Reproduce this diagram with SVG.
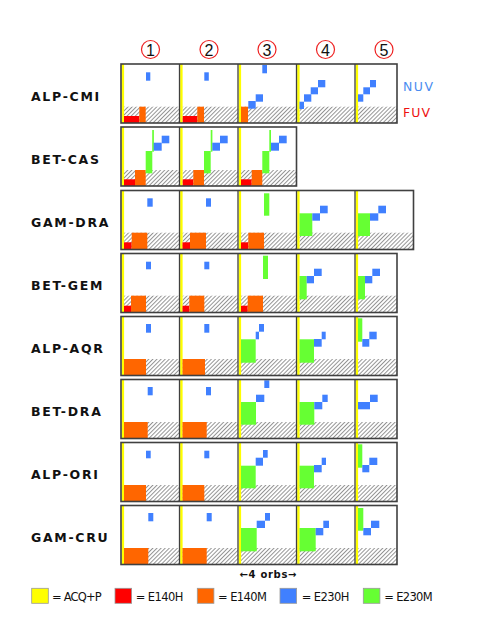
<svg xmlns="http://www.w3.org/2000/svg" width="496" height="640" viewBox="0 0 496 640">
<style>
.lbl{font-family:"DejaVu Sans","Liberation Sans",sans-serif;font-size:12.5px;font-weight:bold;letter-spacing:1.7px;fill:#111}
.num{font-family:"Liberation Sans","DejaVu Sans",sans-serif;font-size:16px;fill:#111;text-anchor:middle}
.leg{font-family:"DejaVu Sans","Liberation Sans",sans-serif;font-size:11.5px;fill:#111}
.circ{fill:none;stroke:#ee2222;stroke-width:1.2}
.h{fill:url(#hatch)}
.y{fill:#ffff00}
.r{fill:#ff0000}
.o{fill:#ff6600}
.b{fill:#4080ff}
.g{fill:#66ff33}
.frame{fill:none;stroke:#404040;stroke-width:1.6}
.div{stroke:#404040;stroke-width:1.3}
.sw{stroke:#999;stroke-width:0.8}
</style>
<defs>
<pattern id="hatch" width="2.9" height="2.9" patternUnits="userSpaceOnUse" patternTransform="rotate(45)">
<line x1="0.5" y1="0" x2="0.5" y2="2.9" stroke="#8a8a8a" stroke-width="0.9"/>
</pattern>
</defs>
<rect width="496" height="640" fill="#fff"/>

<g id="headers">
<circle class="circ" cx="150.5" cy="49.5" r="9"/><text class="num" x="150.5" y="55.5">1</text>
<circle class="circ" cx="209" cy="49.5" r="9"/><text class="num" x="209" y="55.5">2</text>
<circle class="circ" cx="267" cy="49.5" r="9"/><text class="num" x="267" y="55.5">3</text>
<circle class="circ" cx="325.5" cy="49.5" r="9"/><text class="num" x="325.5" y="55.5">4</text>
<circle class="circ" cx="384" cy="49.5" r="9"/><text class="num" x="384" y="55.5">5</text>
</g>

<g id="channels">
<text x="403" y="90.7" style="font-family:'DejaVu Sans','Liberation Sans',sans-serif;font-size:12.5px;fill:#4a8cf0" textLength="30">NUV</text>
<text x="403" y="117.3" style="font-family:'DejaVu Sans','Liberation Sans',sans-serif;font-size:12.5px;fill:#ee1111" textLength="27">FUV</text>
</g>

<!-- Row 1 ALP-CMI -->
<g id="row-alp-cmi">
<text class="lbl" x="31" y="100.7">ALP-CMI</text>
<g transform="translate(121,64)">
<rect class="h" x="3" y="42.7" width="55.5" height="16.3"/><rect class="y" x="0.7" y="0" width="2.4" height="59"/>
<rect class="b" x="25" y="8.3" width="4.3" height="8.4"/><rect class="r" x="3" y="52" width="15.3" height="7"/><rect class="o" x="18.3" y="42.7" width="6.4" height="16.3"/>
</g>
<g transform="translate(179.5,64)">
<rect class="h" x="3" y="42.7" width="55.5" height="16.3"/><rect class="y" x="0.7" y="0" width="2.4" height="59"/>
<rect class="b" x="24.8" y="8.3" width="4.5" height="8.4"/><rect class="r" x="3.2" y="52" width="14.6" height="7"/><rect class="o" x="17.8" y="42.7" width="6.7" height="16.3"/>
</g>
<g transform="translate(238,64)">
<rect class="h" x="3" y="42.7" width="55.5" height="16.3"/><rect class="y" x="0.7" y="0" width="2.4" height="59"/>
<rect class="b" x="24.3" y="1" width="4.7" height="8.3"/><rect class="b" x="17.7" y="30.3" width="7.3" height="7.4"/><rect class="b" x="10.3" y="37" width="7.4" height="7.7"/><rect class="o" x="3" y="42.7" width="7" height="16.3"/>
</g>
<g transform="translate(296.5,64)">
<rect class="h" x="3" y="42.7" width="55.5" height="16.3"/><rect class="y" x="0.7" y="0" width="2.4" height="59"/>
<rect class="b" x="21.5" y="16" width="7.3" height="7.3"/><rect class="b" x="14.2" y="23.3" width="7.3" height="7"/><rect class="b" x="7.5" y="30.3" width="7.3" height="7.4"/><rect class="b" x="3" y="37.7" width="4.5" height="7.3"/>
</g>
<g transform="translate(355,64)">
<rect class="h" x="3" y="42.7" width="39" height="16.3"/><rect class="y" x="0.7" y="0" width="2.4" height="59"/>
<rect class="b" x="15" y="16" width="6" height="7.3"/><rect class="b" x="8.3" y="23.3" width="6.7" height="7"/><rect class="b" x="3" y="30.3" width="5.3" height="7.4"/>
</g>
<rect class="frame" x="121" y="64" width="276" height="59"/>
<line class="div" x1="179.5" y1="64" x2="179.5" y2="123"/><line class="div" x1="238" y1="64" x2="238" y2="123"/><line class="div" x1="296.5" y1="64" x2="296.5" y2="123"/><line class="div" x1="355" y1="64" x2="355" y2="123"/>
</g>

<!-- Row 2 BET-CAS -->
<g id="row-bet-cas">
<text class="lbl" x="31" y="163.7">BET-CAS</text>
<g transform="translate(121,127)">
<rect class="h" x="3" y="43" width="55.5" height="16"/><rect class="y" x="0.7" y="0" width="2.4" height="59"/>
<rect class="r" x="3" y="52.3" width="11" height="6.7"/><rect class="o" x="14" y="43" width="10.7" height="16"/><rect class="g" x="24.7" y="24" width="6.6" height="22.3"/><rect class="g" x="31.2" y="3" width="1.7" height="21.7"/><rect class="b" x="32.7" y="15.7" width="8" height="8"/><rect class="b" x="40.7" y="8.7" width="7.6" height="7.6"/>
</g>
<g transform="translate(179.5,127)">
<rect class="h" x="3" y="43" width="55.5" height="16"/><rect class="y" x="0.7" y="0" width="2.4" height="59"/>
<rect class="r" x="3.2" y="52.3" width="10.6" height="6.7"/><rect class="o" x="13.8" y="43" width="10.7" height="16"/><rect class="g" x="24.5" y="24" width="6.7" height="22.3"/><rect class="g" x="31.2" y="3" width="1.7" height="21.7"/><rect class="b" x="32.8" y="15.7" width="7.7" height="8"/><rect class="b" x="40.5" y="8.7" width="7.7" height="7.6"/>
</g>
<g transform="translate(238,127)">
<rect class="h" x="3" y="43" width="55.5" height="16"/><rect class="y" x="0.7" y="0" width="2.4" height="59"/>
<rect class="r" x="3" y="52.3" width="10.7" height="6.7"/><rect class="o" x="13.7" y="43" width="10.6" height="16"/><rect class="g" x="24.3" y="24" width="7" height="22.3"/><rect class="g" x="31.3" y="3" width="1.7" height="21.7"/><rect class="b" x="33" y="15.7" width="8" height="8"/><rect class="b" x="41" y="8.7" width="7.7" height="7.6"/>
</g>
<rect class="frame" x="121" y="127" width="175.5" height="59"/>
<line class="div" x1="179.5" y1="127" x2="179.5" y2="186"/><line class="div" x1="238" y1="127" x2="238" y2="186"/>
</g>

<!-- Row 3 GAM-DRA -->
<g id="row-gam-dra">
<text class="lbl" x="31" y="227.2">GAM-DRA</text>
<g transform="translate(121,190.5)">
<rect class="h" x="3" y="42.2" width="55.5" height="16.8"/><rect class="y" x="0.7" y="0" width="2.4" height="59"/>
<rect class="r" x="3" y="51.8" width="7.7" height="7.2"/><rect class="o" x="10.7" y="42.2" width="15.6" height="16.8"/><rect class="b" x="26.3" y="7.8" width="5.4" height="8.4"/>
</g>
<g transform="translate(179.5,190.5)">
<rect class="h" x="3" y="42.2" width="55.5" height="16.8"/><rect class="y" x="0.7" y="0" width="2.4" height="59"/>
<rect class="r" x="3" y="51.8" width="7.5" height="7.2"/><rect class="o" x="10.5" y="42.2" width="16" height="16.8"/><rect class="b" x="26.5" y="7.8" width="5" height="8.4"/>
</g>
<g transform="translate(238,190.5)">
<rect class="h" x="3" y="42.2" width="55.5" height="16.8"/><rect class="y" x="0.7" y="0" width="2.4" height="59"/>
<rect class="r" x="3" y="51.8" width="7.3" height="7.2"/><rect class="o" x="10.3" y="42.2" width="15.7" height="16.8"/><rect class="g" x="26" y="2.8" width="5.3" height="22.4"/>
</g>
<g transform="translate(296.5,190.5)">
<rect class="h" x="3" y="42.2" width="55.5" height="16.8"/><rect class="y" x="0.7" y="0" width="2.4" height="59"/>
<rect class="g" x="3" y="22.8" width="12.8" height="22.7"/><rect class="b" x="15.8" y="22.8" width="7.7" height="7.4"/><rect class="b" x="23.5" y="15.2" width="7.7" height="7.6"/>
</g>
<g transform="translate(355,190.5)">
<rect class="h" x="3" y="42.2" width="55.5" height="16.8"/><rect class="y" x="0.7" y="0" width="2.4" height="59"/>
<rect class="g" x="3" y="22.8" width="12" height="22.7"/><rect class="b" x="15" y="22.8" width="8.3" height="7.4"/><rect class="b" x="23.3" y="15.2" width="7.7" height="7.6"/>
</g>
<rect class="frame" x="121" y="190.5" width="292.5" height="59"/>
<line class="div" x1="179.5" y1="190.5" x2="179.5" y2="249.5"/><line class="div" x1="238" y1="190.5" x2="238" y2="249.5"/><line class="div" x1="296.5" y1="190.5" x2="296.5" y2="249.5"/><line class="div" x1="355" y1="190.5" x2="355" y2="249.5"/>
</g>

<!-- Row 4 BET-GEM -->
<g id="row-bet-gem">
<text class="lbl" x="31" y="290.2">BET-GEM</text>
<g transform="translate(121,253.5)">
<rect class="h" x="3" y="42.2" width="55.5" height="16.8"/><rect class="y" x="0.7" y="0" width="2.4" height="59"/>
<rect class="r" x="3" y="52.2" width="7" height="6.8"/><rect class="o" x="10" y="42.2" width="15" height="16.8"/><rect class="b" x="25" y="8.2" width="5" height="7.6"/>
</g>
<g transform="translate(179.5,253.5)">
<rect class="h" x="3" y="42.2" width="55.5" height="16.8"/><rect class="y" x="0.7" y="0" width="2.4" height="59"/>
<rect class="r" x="3" y="52.2" width="6.8" height="6.8"/><rect class="o" x="9.8" y="42.2" width="15" height="16.8"/><rect class="b" x="24.8" y="8.2" width="5" height="7.6"/>
</g>
<g transform="translate(238,253.5)">
<rect class="h" x="3" y="42.2" width="55.5" height="16.8"/><rect class="y" x="0.7" y="0" width="2.4" height="59"/>
<rect class="r" x="3" y="52.2" width="6.7" height="6.8"/><rect class="o" x="9.7" y="42.2" width="15.3" height="16.8"/><rect class="g" x="25" y="2.2" width="5" height="23.3"/>
</g>
<g transform="translate(296.5,253.5)">
<rect class="h" x="3" y="42.2" width="55.5" height="16.8"/><rect class="y" x="0.7" y="0" width="2.4" height="59"/>
<rect class="g" x="3" y="22.5" width="7.2" height="23.3"/><rect class="b" x="10.2" y="22.5" width="7.3" height="7.3"/><rect class="b" x="17.5" y="15.2" width="7.7" height="7.3"/>
</g>
<g transform="translate(355,253.5)">
<rect class="h" x="3" y="42.2" width="39" height="16.8"/><rect class="y" x="0.7" y="0" width="2.4" height="59"/>
<rect class="g" x="3" y="22.5" width="7" height="23.3"/><rect class="b" x="10" y="22.5" width="7.3" height="7.3"/><rect class="b" x="17.3" y="15.2" width="7.7" height="7.3"/>
</g>
<rect class="frame" x="121" y="253.5" width="276" height="59"/>
<line class="div" x1="179.5" y1="253.5" x2="179.5" y2="312.5"/><line class="div" x1="238" y1="253.5" x2="238" y2="312.5"/><line class="div" x1="296.5" y1="253.5" x2="296.5" y2="312.5"/><line class="div" x1="355" y1="253.5" x2="355" y2="312.5"/>
</g>

<!-- Row 5 ALP-AQR -->
<g id="row-alp-aqr">
<text class="lbl" x="31" y="353.2">ALP-AQR</text>
<g transform="translate(121,316.5)">
<rect class="h" x="3" y="42.5" width="55.5" height="16.5"/><rect class="y" x="0.7" y="0" width="2.4" height="59"/>
<rect class="o" x="3" y="42.5" width="22" height="16.5"/><rect class="b" x="25" y="7.5" width="5" height="8.7"/>
</g>
<g transform="translate(179.5,316.5)">
<rect class="h" x="3" y="42.5" width="55.5" height="16.5"/><rect class="y" x="0.7" y="0" width="2.4" height="59"/>
<rect class="o" x="3" y="42.5" width="22.5" height="16.5"/><rect class="b" x="24.8" y="7.5" width="5" height="8.7"/>
</g>
<g transform="translate(238,316.5)">
<rect class="h" x="3" y="42.5" width="55.5" height="16.5"/><rect class="y" x="0.7" y="0" width="2.4" height="59"/>
<rect class="g" x="3" y="22.8" width="14.7" height="23.4"/><rect class="b" x="17.7" y="15.2" width="3.3" height="7.6"/><rect class="b" x="21" y="7.5" width="5" height="7.7"/>
</g>
<g transform="translate(296.5,316.5)">
<rect class="h" x="3" y="42.5" width="55.5" height="16.5"/><rect class="y" x="0.7" y="0" width="2.4" height="59"/>
<rect class="g" x="3" y="22.8" width="14.5" height="23.4"/><rect class="b" x="17.5" y="22.5" width="7.7" height="7.7"/><rect class="b" x="25.2" y="15.2" width="4" height="7.6"/>
</g>
<g transform="translate(355,316.5)">
<rect class="h" x="3" y="42.5" width="39" height="16.5"/><rect class="y" x="0.7" y="0" width="2.4" height="59"/>
<rect class="g" x="3" y="1.8" width="4.3" height="23.4"/><rect class="b" x="7.3" y="22.5" width="7" height="7.7"/><rect class="b" x="14.3" y="15.2" width="7.4" height="7.6"/>
</g>
<rect class="frame" x="121" y="316.5" width="276" height="59"/>
<line class="div" x1="179.5" y1="316.5" x2="179.5" y2="375.5"/><line class="div" x1="238" y1="316.5" x2="238" y2="375.5"/><line class="div" x1="296.5" y1="316.5" x2="296.5" y2="375.5"/><line class="div" x1="355" y1="316.5" x2="355" y2="375.5"/>
</g>

<!-- Row 6 BET-DRA -->
<g id="row-bet-dra">
<text class="lbl" x="31" y="416.2">BET-DRA</text>
<g transform="translate(121,379.5)">
<rect class="h" x="3" y="42.5" width="55.5" height="16.5"/><rect class="y" x="0.7" y="0" width="2.4" height="59"/>
<rect class="o" x="3" y="42.5" width="23.7" height="16.5"/><rect class="b" x="26.7" y="7.5" width="5" height="8.3"/>
</g>
<g transform="translate(179.5,379.5)">
<rect class="h" x="3" y="42.5" width="55.5" height="16.5"/><rect class="y" x="0.7" y="0" width="2.4" height="59"/>
<rect class="o" x="3" y="42.5" width="24.2" height="16.5"/><rect class="b" x="26.5" y="7.5" width="5" height="8.3"/>
</g>
<g transform="translate(238,379.5)">
<rect class="h" x="3" y="42.5" width="55.5" height="16.5"/><rect class="y" x="0.7" y="0" width="2.4" height="59"/>
<rect class="g" x="3" y="22.5" width="15" height="22.7"/><rect class="b" x="18" y="15.2" width="8.3" height="7.3"/><rect class="b" x="26.3" y="0.8" width="5" height="7.7"/>
</g>
<g transform="translate(296.5,379.5)">
<rect class="h" x="3" y="42.5" width="55.5" height="16.5"/><rect class="y" x="0.7" y="0" width="2.4" height="59"/>
<rect class="g" x="3" y="22.5" width="14.8" height="22.7"/><rect class="b" x="17.8" y="22.5" width="8" height="7.3"/><rect class="b" x="25.8" y="15.2" width="5.4" height="7.3"/>
</g>
<g transform="translate(355,379.5)">
<rect class="h" x="3" y="42.5" width="39" height="16.5"/><rect class="y" x="0.7" y="0" width="2.4" height="59"/>
<rect class="b" x="3" y="22.5" width="12" height="7.3"/><rect class="b" x="15" y="15.2" width="7.7" height="7.3"/>
</g>
<rect class="frame" x="121" y="379.5" width="276" height="59"/>
<line class="div" x1="179.5" y1="379.5" x2="179.5" y2="438.5"/><line class="div" x1="238" y1="379.5" x2="238" y2="438.5"/><line class="div" x1="296.5" y1="379.5" x2="296.5" y2="438.5"/><line class="div" x1="355" y1="379.5" x2="355" y2="438.5"/>
</g>

<!-- Row 7 ALP-ORI -->
<g id="row-alp-ori">
<text class="lbl" x="31" y="479.2">ALP-ORI</text>
<g transform="translate(121,442.5)">
<rect class="h" x="3" y="42.5" width="55.5" height="16.5"/><rect class="y" x="0.7" y="0" width="2.4" height="59"/>
<rect class="o" x="3" y="42.5" width="22" height="16.5"/><rect class="b" x="25" y="8.2" width="4.7" height="7.6"/>
</g>
<g transform="translate(179.5,442.5)">
<rect class="h" x="3" y="42.5" width="55.5" height="16.5"/><rect class="y" x="0.7" y="0" width="2.4" height="59"/>
<rect class="o" x="3" y="42.5" width="21.8" height="16.5"/><rect class="b" x="24.8" y="8.2" width="5" height="7.6"/>
</g>
<g transform="translate(238,442.5)">
<rect class="h" x="3" y="42.5" width="55.5" height="16.5"/><rect class="y" x="0.7" y="0" width="2.4" height="59"/>
<rect class="g" x="3" y="23.2" width="14.7" height="22.6"/><rect class="b" x="17.7" y="15.2" width="7.3" height="8"/><rect class="b" x="25" y="7.5" width="4.7" height="7.7"/>
</g>
<g transform="translate(296.5,442.5)">
<rect class="h" x="3" y="42.5" width="55.5" height="16.5"/><rect class="y" x="0.7" y="0" width="2.4" height="59"/>
<rect class="g" x="3" y="23.2" width="14.5" height="22.6"/><rect class="b" x="17.5" y="22.5" width="7.7" height="7.3"/><rect class="b" x="25.2" y="15.2" width="4.3" height="7.3"/>
</g>
<g transform="translate(355,442.5)">
<rect class="h" x="3" y="42.5" width="39" height="16.5"/><rect class="y" x="0.7" y="0" width="2.4" height="59"/>
<rect class="g" x="3" y="1.8" width="4.3" height="23.4"/><rect class="b" x="7.3" y="22.5" width="7" height="7.3"/><rect class="b" x="14.3" y="15.2" width="8" height="7.3"/>
</g>
<rect class="frame" x="121" y="442.5" width="276" height="59"/>
<line class="div" x1="179.5" y1="442.5" x2="179.5" y2="501.5"/><line class="div" x1="238" y1="442.5" x2="238" y2="501.5"/><line class="div" x1="296.5" y1="442.5" x2="296.5" y2="501.5"/><line class="div" x1="355" y1="442.5" x2="355" y2="501.5"/>
</g>

<!-- Row 8 GAM-CRU -->
<g id="row-gam-cru">
<text class="lbl" x="31" y="542.2">GAM-CRU</text>
<g transform="translate(121,505.5)">
<rect class="h" x="3" y="42.5" width="55.5" height="16.5"/><rect class="y" x="0.7" y="0" width="2.4" height="59"/>
<rect class="o" x="3" y="42.5" width="24.3" height="16.5"/><rect class="b" x="27.3" y="7.5" width="5" height="8.3"/>
</g>
<g transform="translate(179.5,505.5)">
<rect class="h" x="3" y="42.5" width="55.5" height="16.5"/><rect class="y" x="0.7" y="0" width="2.4" height="59"/>
<rect class="o" x="3" y="42.5" width="24.2" height="16.5"/><rect class="b" x="27.2" y="7.5" width="5" height="8.3"/>
</g>
<g transform="translate(238,505.5)">
<rect class="h" x="3" y="42.5" width="55.5" height="16.5"/><rect class="y" x="0.7" y="0" width="2.4" height="59"/>
<rect class="g" x="3" y="22.5" width="15.7" height="23.3"/><rect class="b" x="18.7" y="15.2" width="8.3" height="7.3"/><rect class="b" x="27" y="7.5" width="5" height="7.7"/>
</g>
<g transform="translate(296.5,505.5)">
<rect class="h" x="3" y="42.5" width="55.5" height="16.5"/><rect class="y" x="0.7" y="0" width="2.4" height="59"/>
<rect class="g" x="3" y="22.5" width="16.2" height="23.3"/><rect class="b" x="19.2" y="22.5" width="7.6" height="7.3"/><rect class="b" x="26.8" y="15.2" width="5.7" height="7.3"/>
</g>
<g transform="translate(355,505.5)">
<rect class="h" x="3" y="42.5" width="39" height="16.5"/><rect class="y" x="0.7" y="0" width="2.4" height="59"/>
<rect class="g" x="3" y="2.5" width="5.3" height="22.7"/><rect class="b" x="8.3" y="22.5" width="7.7" height="7.3"/><rect class="b" x="16" y="15.2" width="8.3" height="7.3"/>
</g>
<rect class="frame" x="121" y="505.5" width="276" height="59"/>
<line class="div" x1="179.5" y1="505.5" x2="179.5" y2="564.5"/><line class="div" x1="238" y1="505.5" x2="238" y2="564.5"/><line class="div" x1="296.5" y1="505.5" x2="296.5" y2="564.5"/><line class="div" x1="355" y1="505.5" x2="355" y2="564.5"/>
</g>

<g id="scale">
<text x="268" y="578" style="font-family:'DejaVu Sans','Liberation Sans',sans-serif;font-size:10px;font-weight:bold;fill:#111;text-anchor:middle" textLength="57">←4 orbs→</text>
</g>

<g id="legend">
<rect class="sw" x="31.7" y="588.3" width="16.6" height="15" fill="#ffff00"/><text class="leg" x="52" y="600.5" textLength="49.7">= ACQ+P</text>
<rect class="sw" x="115" y="588.3" width="16.6" height="15" fill="#ff0000"/><text class="leg" x="135.7" y="600.5" textLength="47.6">= E140H</text>
<rect class="sw" x="197.3" y="588.3" width="16.6" height="15" fill="#ff6600"/><text class="leg" x="218" y="600.5" textLength="49">= E140M</text>
<rect class="sw" x="280" y="588.3" width="16.6" height="15" fill="#4080ff"/><text class="leg" x="301.7" y="600.5" textLength="47.6">= E230H</text>
<rect class="sw" x="363.3" y="588.3" width="16.6" height="15" fill="#66ff33"/><text class="leg" x="384.3" y="600.5" textLength="48.4">= E230M</text>
</g>
</svg>
